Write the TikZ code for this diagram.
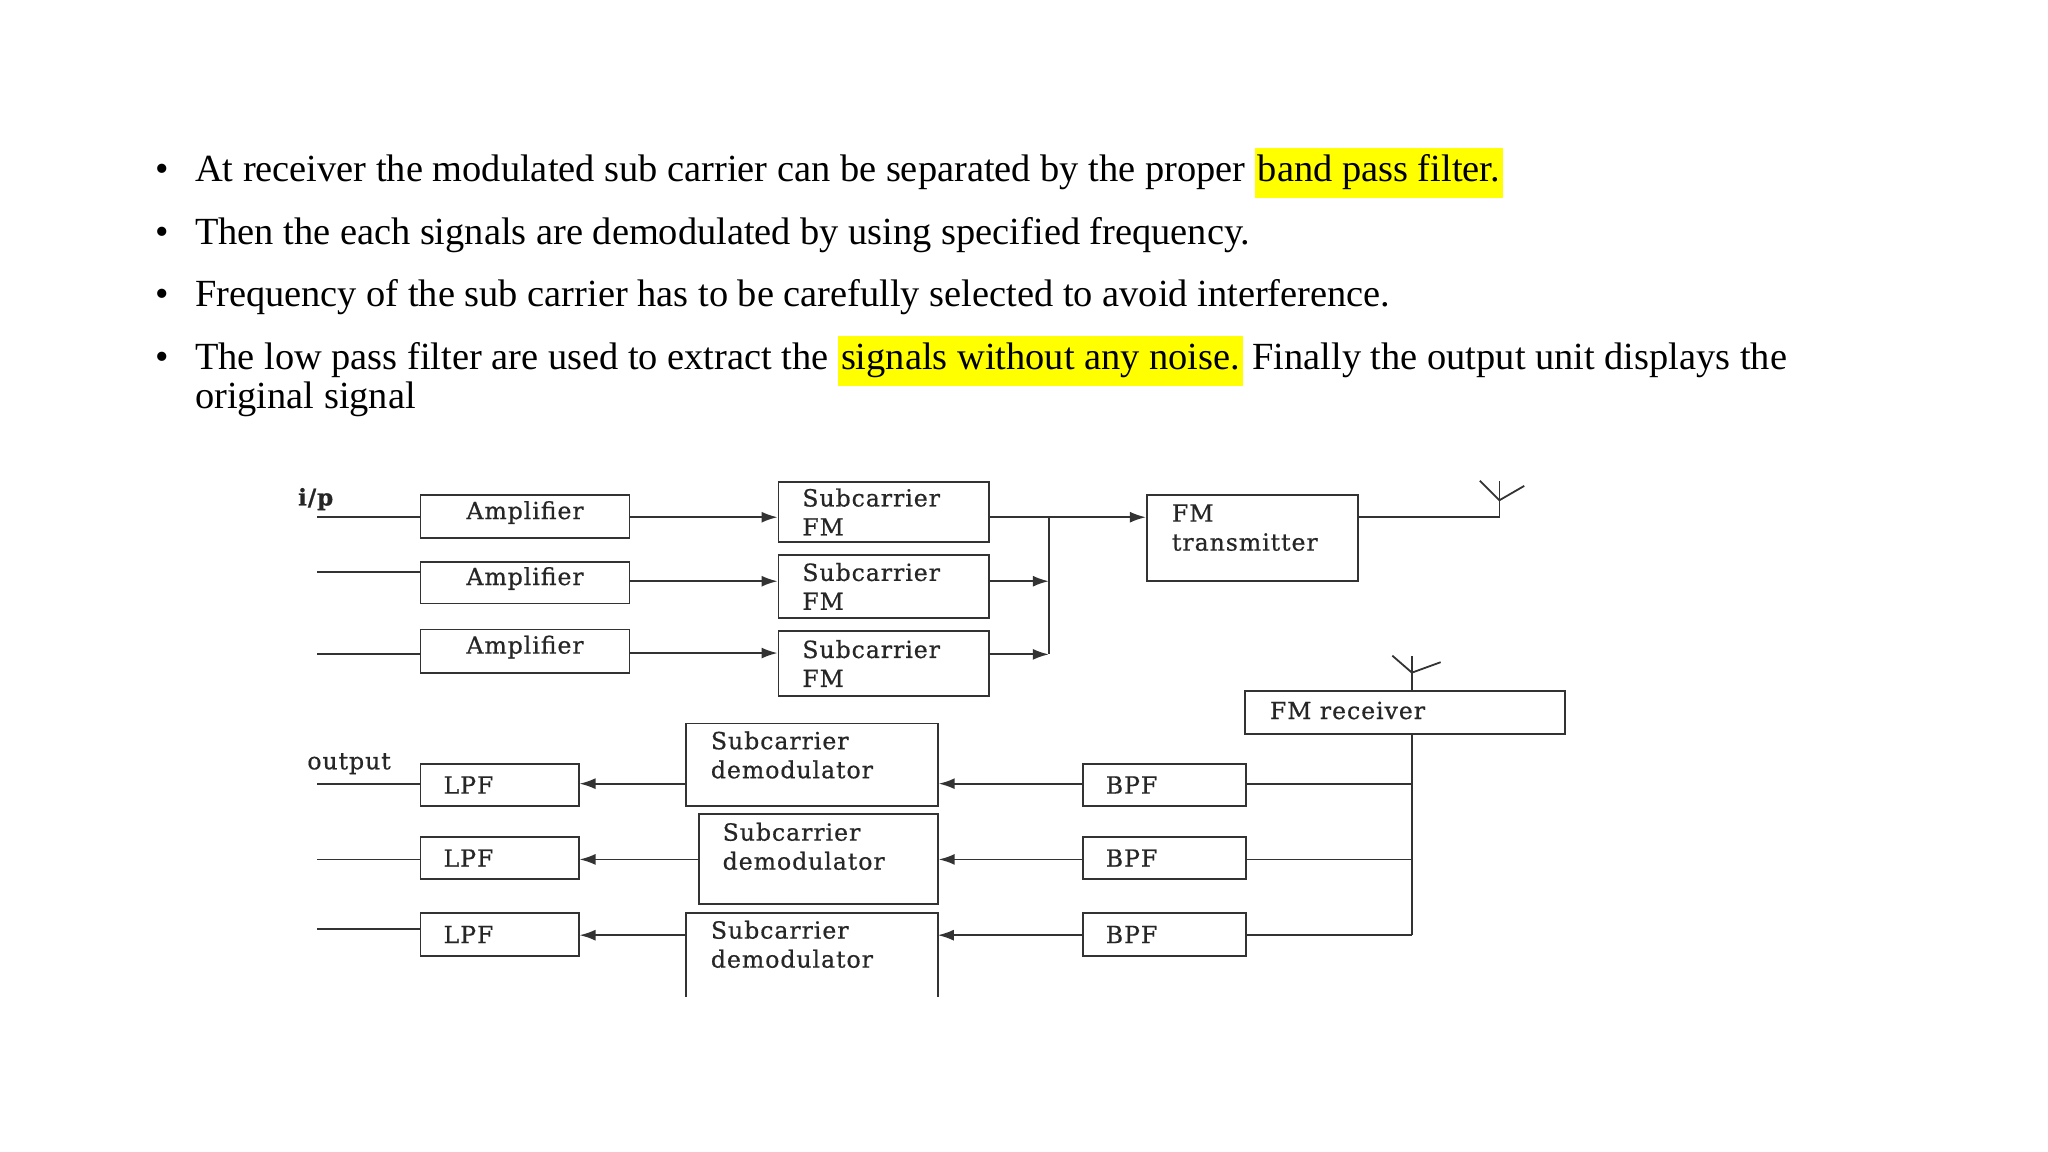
\documentclass[tikz,border=0pt]{standalone}
\usepackage{fontspec}
\usepackage{xcolor}
\setmainfont{Liberation Serif}
\newfontfamily\dfont[FakeBold=0.6,LetterSpace=4]{DejaVu Serif}
\usetikzlibrary{fit,arrows.meta}
\definecolor{hly}{HTML}{FFFF00}
\definecolor{ln}{HTML}{333333}
\newcommand{\hlt}[1]{{\setlength{\fboxsep}{1.5pt}\colorbox{hly}{\strut #1}}}
\begin{document}
\begin{tikzpicture}[x=0.653pt,y=-0.653pt,
  box/.style={draw=ln,line width=0.9pt,inner sep=0pt},
  lbl/.style={font=\dfont\fontsize{11.8}{14.5}\selectfont,text=black!85,inner sep=0pt,align=left},
  bul/.style={anchor=base west,inner sep=0pt,font=\fontsize{19.2}{22}\selectfont},
  wire/.style={draw=ln,line width=0.9pt},
  arr/.style={wire,-{Latex[length=8pt,width=5.5pt]}}]
\useasboundingbox[fill=white] (0,0) rectangle (1568,882);
% bullets
\foreach \yy/\nm in {139/b1,187/b2,235/b3,283/b4}{\node[bul,anchor=base] (\nm) at (124,\yy) {\textbullet};}
\node[bul] (t1) at (149,139) {At receiver the modulated sub carrier can be separated by the proper \hlt{band pass filter.}};
\node[bul] (t2) at (149,187) {Then the each signals are demodulated by using specified frequency.};
\node[bul] (t3) at (149,235) {Frequency of the sub carrier has to be carefully selected to avoid interference.};
\node[bul] (t4) at (149,283) {The low pass filter are used to extract the \hlt{signals without any noise.} Finally the output unit displays the};
\node[bul] (t5) at (149,313) {original signal};
% coordinates for boxes
\foreach \n/\xa/\ya/\xb/\yb in {a1/322/379/482/412,a2/322/430/482/462,a3/322/482/482/515,
 s1/596/369/757/415,s2/596/425/757/473,s3/596/483/757/533,
 tx/878/379/1040/445,rx/953/529/1198/562,
 p1/829/585/954/617,p2/829/641/954/673,p3/829/699/954/732,
 l1/322/585/443/617,l2/322/641/443/673,l3/322/699/443/732,
 d1/525/554/718/617,d2/535/623/718/692}{
 \node[box,fit={(\xa,\ya)(\xb,\yb)}] (\n) {};}
\draw[wire] (525,763) -- (525,699) -- (718,699) -- (718,763);
\coordinate (d3e) at (718,716); \coordinate (d3w) at (525,716);
% labels
\foreach \n in {1,2,3}{\node[lbl] at ([yshift=2pt]a\n) {Amplifier};}
\foreach \n/\yy in {1/392,2/449,3/508}{\node[lbl,anchor=west] at (614,\yy) {Subcarrier\\FM};}
\node[lbl,anchor=west] at (897,404) {FM\\transmitter};
\node[lbl,anchor=west] at (972,544) {FM receiver};
\foreach \n in {1,2,3}{\node[lbl,anchor=west] at ([xshift=18*0.653pt]p\n.west) {BPF};
 \node[lbl,anchor=west] at ([xshift=18*0.653pt]l\n.west) {LPF};}
\node[lbl,anchor=west] at (544,578) {Subcarrier\\demodulator};
\node[lbl,anchor=west] at (553,648) {Subcarrier\\demodulator};
\node[lbl,anchor=west] at (544,723) {Subcarrier\\demodulator};
\node[lbl,anchor=base west,font=\dfont\bfseries\fontsize{11.5}{13}\selectfont] (ip) at (228,387) {i/p};
\node[lbl,anchor=base west] (op) at (235,589) {output};
% inputs
\foreach \n/\yy in {1/396,2/438,3/501}{\coordinate (in\n) at (243,\yy); \draw[wire] (in\n) -- (a\n.west|-in\n);}
\foreach \n/\yy in {1/396,2/445,3/500}{\draw[arr] (a\n.east|-0,\yy) -- (s\n.west|-0,\yy);}
\coordinate (bt) at (803,396); \coordinate (bb) at (803,501);
\draw[wire] (bt) -- (bb);
\draw[arr] (s1.east|-bt) -- (tx.west|-bt);
\draw[arr] (s2.east|-0,445) -- (803,445);
\draw[arr] (s3.east|-bb) -- (bb);
% tx antenna
\coordinate (ta) at (1148,396); \coordinate (tj) at (1148,383);
\draw[wire] (tx.east|-ta) -- (ta) -- (1148,368);
\draw[wire] (1133,368) -- (tj) -- (1167,372);
% rx antenna
\coordinate (rj) at (1081,515);
\draw[wire] (rx.north-|rj) -- (1081,502);
\draw[wire] (1066,502) -- (rj) -- (1103,507);
% rx bus
\coordinate (rb) at (1081,716);
\draw[wire] (rx.south-|rb) -- (rb);
\foreach \n/\yy in {1/600,2/658,3/716}{\draw[wire] (p\n.east|-0,\yy) -- (1081,\yy);}
\draw[arr] (p1.west|-0,600) -- (d1.east|-0,600);
\draw[arr] (p2.west|-0,658) -- (d2.east|-0,658);
\draw[arr] (p3.west|-0,716) -- (d3e);
\draw[arr] (d1.west|-0,600) -- (l1.east|-0,600);
\draw[arr] (d2.west|-0,658) -- (l2.east|-0,658);
\draw[arr] (d3w) -- (l3.east|-d3w);
\foreach \n/\yy in {1/600,2/658,3/711}{\coordinate (o\n) at (243,\yy); \draw[wire] (o\n) -- (l\n.west|-o\n);}
\end{tikzpicture}
\end{document}
